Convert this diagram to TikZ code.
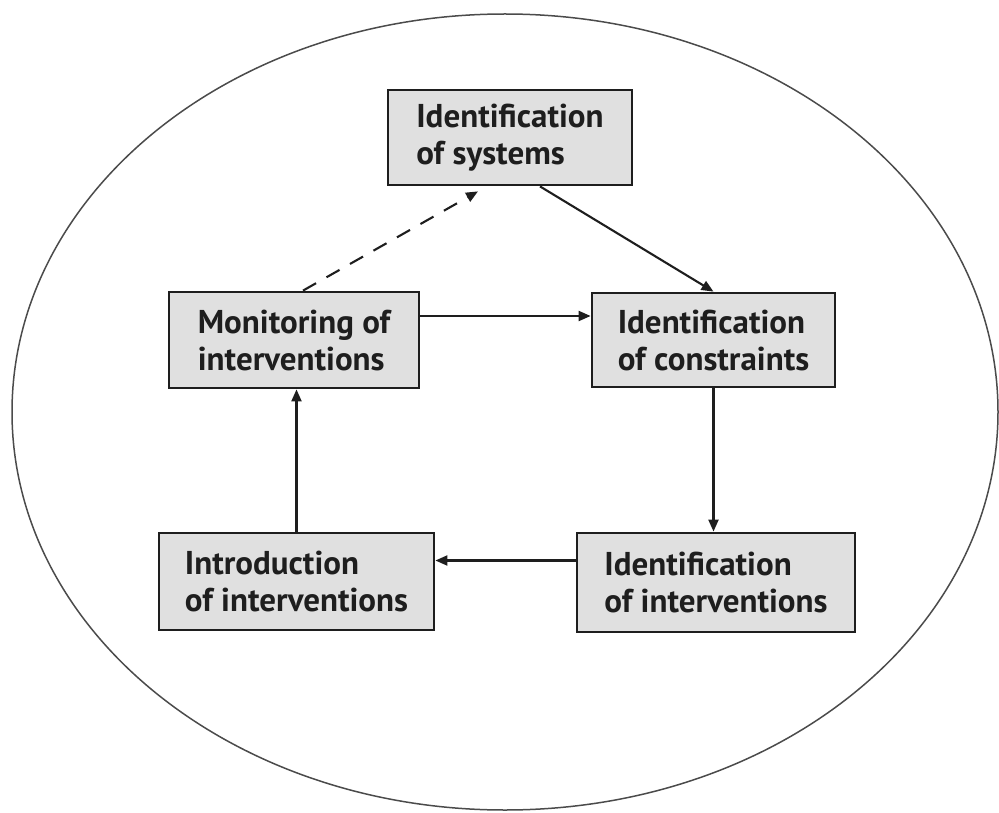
\documentclass[tikz,border=0pt]{standalone}
\usepackage{fontspec}
\setmainfont{PT Sans}
\usetikzlibrary{arrows.meta}
\definecolor{boxfill}{HTML}{E0E0E0}
\definecolor{ink}{HTML}{1E1E1E}
\begin{document}
\begin{tikzpicture}[x=1pt,y=-1pt,
  stagebox/.style={draw=ink, fill=boxfill, line width=2.8pt, align=left,
    inner sep=0pt, font=\bfseries\fontsize{33}{37}\selectfont, text=ink},
  flow/.style={draw=ink, line width=2.1pt, -{Triangle[length=12pt,width=10pt]}},
  loopback/.style={flow, dash pattern=on 15pt off 12pt}
]
\useasboundingbox (0,0) rectangle (999,813);
% enclosing ellipse
\draw[draw=ink!80, line width=1.5pt] (505,412) ellipse [x radius=493pt, y radius=398pt];

% stages of the cycle
\node[stagebox, minimum width=244pt, minimum height=95pt] (sys) at (510,137.5)
  {Identification\\of systems};
\node[stagebox, minimum width=250pt, minimum height=96pt] (mon) at (294,340)
  {Monitoring of\\interventions};
\node[stagebox, minimum width=243pt, minimum height=94pt] (con) at (713.5,340)
  {Identification\\of constraints};
\node[stagebox, minimum width=275pt, minimum height=97pt] (intro) at (296.5,581.5)
  {Introduction\\of interventions};
\node[stagebox, minimum width=278pt, minimum height=99pt] (idint) at (716,582.5)
  {Identification\\of interventions};

% connectors
\draw[flow] ([xshift=30pt]sys.south) -- (con.north);
\draw[flow] ([yshift=24pt]mon.east) -- ([yshift=24pt]con.west);
\draw[flow] (con.south) -- (con.south |- idint.north);
\draw[flow] ([yshift=22pt]idint.west) -- ([yshift=22pt]idint.west -| intro.east);
\draw[flow] (intro.north) -- (intro.north |- mon.south);
\draw[loopback] ([xshift=9pt]mon.north) -- ([xshift=-32pt,yshift=-5pt]sys.south);
\end{tikzpicture}
\end{document}
